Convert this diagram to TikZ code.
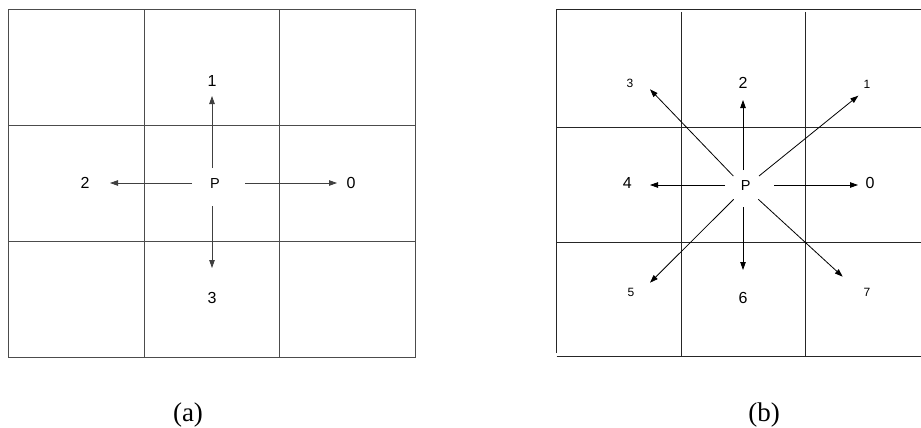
\documentclass[tikz,border=0pt]{standalone}
\usepackage{fontspec}
\setmainfont{Liberation Serif}
\newfontfamily\lbl{Liberation Sans}
\usetikzlibrary{arrows.meta}
\begin{document}
\begin{tikzpicture}[x=1pt,y=-1pt,
  gridl/.style={line width=0.9pt},
  arr/.style={line width=0.8pt,-{Triangle[length=8pt,width=5.5pt]}},
  big/.style={font=\lbl\fontsize{16}{16}\selectfont,inner sep=0pt},
  pl/.style={font=\lbl\fontsize{14.5}{14.5}\selectfont,inner sep=0pt},
  small/.style={font=\lbl\fontsize{12}{12}\selectfont,inner sep=0pt},
  captxt/.style={font=\fontsize{27}{27}\selectfont,inner sep=0pt,anchor=base}]
\useasboundingbox (0,0) rectangle (921,428);
% ---------- (a) ----------
\begin{scope}[black!70]
\draw[gridl] (8,9.3) rectangle (415.5,357);
\draw[gridl] (144,9.3) -- (144,357);
\draw[gridl] (279.7,9.3) -- (279.7,357);
\draw[gridl] (8,125) -- (415.5,125);
\draw[gridl] (8,241) -- (415.5,241);
\end{scope}
\node[pl] (pa) at (215,184) {P};
\node[big] (a1) at (212,80.5) {1};
\node[big] (a3) at (212,298) {3};
\node[big] (a2) at (85,182.5) {2};
\node[big] (a0) at (351,182.5) {0};
\coordinate (pau) at (212,168);
\coordinate (pad) at (212,206);
\coordinate (pal) at (192,183);
\coordinate (par) at (245,183);
\coordinate (a1t) at (212,96);
\coordinate (a3t) at (212,268);
\coordinate (a2t) at (110,183);
\coordinate (a0t) at (337,183);
\begin{scope}[black!75]
\draw[arr] (pau) -- (a1t);
\draw[arr] (pad) -- (a3t);
\draw[arr] (pal) -- (a2t);
\draw[arr] (par) -- (a0t);
\end{scope}
% ---------- (b) ----------
\begin{scope}[black!85]
\draw[gridl] (556.7,353) -- (556.7,9.3) -- (921,9.3);
\draw[gridl] (556.7,356.7) -- (921,356.7);
\draw[gridl] (681,12) -- (681,356.7);
\draw[gridl] (805.3,12) -- (805.3,356.7);
\draw[gridl] (556.7,127.3) -- (921,127.3);
\draw[gridl] (556.7,242.3) -- (921,242.3);
\end{scope}
\node[pl] (pb) at (745.7,186) {P};
\node[small] (b3) at (630,83.3) {3};
\node[big] (b2) at (743,83) {2};
\node[small] (b1) at (867,84) {1};
\node[big] (b4) at (627.3,183) {4};
\node[big] (b0) at (870,183) {0};
\node[small] (b5) at (631,292.7) {5};
\node[big] (b6) at (743,298) {6};
\node[small] (b7) at (867,292.7) {7};
\coordinate (s2) at (743,170);  \coordinate (t2) at (743,100);
\coordinate (s3) at (733.3,176); \coordinate (t3) at (650,89.3);
\coordinate (s1) at (759,176);  \coordinate (t1) at (858.3,95.7);
\coordinate (s4) at (725,185);  \coordinate (t4) at (650,185);
\coordinate (s0) at (774,185);  \coordinate (t0) at (858,185);
\coordinate (s5) at (733.7,199.3); \coordinate (t5) at (650,282.7);
\coordinate (s6) at (743,207);  \coordinate (t6) at (743,270);
\coordinate (s7) at (758.3,199.3); \coordinate (t7) at (842.7,276.7);
\draw[arr] (s2) -- (t2);
\draw[arr] (s3) -- (t3);
\draw[arr] (s1) -- (t1);
\draw[arr] (s4) -- (t4);
\draw[arr] (s0) -- (t0);
\draw[arr] (s5) -- (t5);
\draw[arr] (s6) -- (t6);
\draw[arr] (s7) -- (t7);
% captions
\node[captxt] (ca) at (188,421) {(a)};
\node[captxt] (cb) at (764,421) {(b)};
\end{tikzpicture}
\end{document}
